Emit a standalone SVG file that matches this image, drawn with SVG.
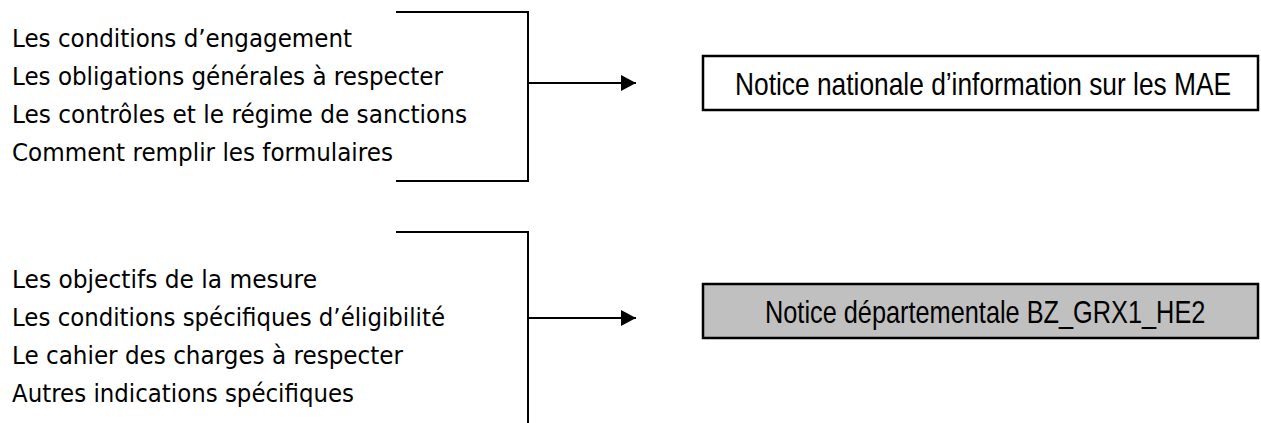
<svg xmlns="http://www.w3.org/2000/svg" width="1261" height="423" viewBox="0 0 1261 423">
  <style>
    .lbl { font-family: "DejaVu Sans", Verdana, sans-serif; font-size: 25px; fill: #000; }
    .box-txt { font-family: "Liberation Sans", Arial, sans-serif; font-size: 32px; fill: #000; }
    .ln { stroke: #000; stroke-width: 2; fill: none; }
    .box { stroke: #000; stroke-width: 2.5; }
  </style>
  <defs>
    <marker id="arr" markerWidth="16" markerHeight="16" refX="15" refY="8" orient="auto" markerUnits="userSpaceOnUse">
      <path d="M0,0 L15,8 L0,16 Z" fill="#000"/>
    </marker>
  </defs>
  <rect width="1261" height="423" fill="#fff"/>

  <g id="list1">
    <text class="lbl" x="12" y="47" textLength="340" lengthAdjust="spacingAndGlyphs">Les conditions d’engagement</text>
    <text class="lbl" x="12" y="85" textLength="431" lengthAdjust="spacingAndGlyphs">Les obligations générales à respecter</text>
    <text class="lbl" x="12" y="123" textLength="455" lengthAdjust="spacingAndGlyphs">Les contrôles et le régime de sanctions</text>
    <text class="lbl" x="12" y="161" textLength="381" lengthAdjust="spacingAndGlyphs">Comment remplir les formulaires</text>
  </g>
  <g id="list2">
    <text class="lbl" x="12" y="288" textLength="305" lengthAdjust="spacingAndGlyphs">Les objectifs de la mesure</text>
    <text class="lbl" x="12" y="326" textLength="433" lengthAdjust="spacingAndGlyphs">Les conditions spécifiques d’éligibilité</text>
    <text class="lbl" x="12" y="364" textLength="391" lengthAdjust="spacingAndGlyphs">Le cahier des charges à respecter</text>
    <text class="lbl" x="12" y="402" textLength="342" lengthAdjust="spacingAndGlyphs">Autres indications spécifiques</text>
  </g>

  <g id="box1">
    <rect class="box" x="703" y="56" width="555" height="54" fill="#fff"/>
    <text class="box-txt" transform="translate(735,95) scale(0.82,1)" x="0" y="0" textLength="605" lengthAdjust="spacingAndGlyphs">Notice nationale d’information sur les MAE</text>
  </g>
  <g id="box2">
    <rect class="box" x="703" y="284" width="555" height="54" fill="#c0c0c0"/>
    <text class="box-txt" transform="translate(765,323) scale(0.82,1)" x="0" y="0" textLength="537" lengthAdjust="spacingAndGlyphs">Notice départementale BZ_GRX1_HE2</text>
  </g>

  <g id="connectors">
    <polyline class="ln" points="396,12 528,12 528,181 396,181"/>
    <line class="ln" x1="528" y1="83" x2="636" y2="83" marker-end="url(#arr)"/>
    <polyline class="ln" points="396,232 528,232 528,430"/>
    <line class="ln" x1="528" y1="318" x2="636" y2="318" marker-end="url(#arr)"/>
  </g>
</svg>
